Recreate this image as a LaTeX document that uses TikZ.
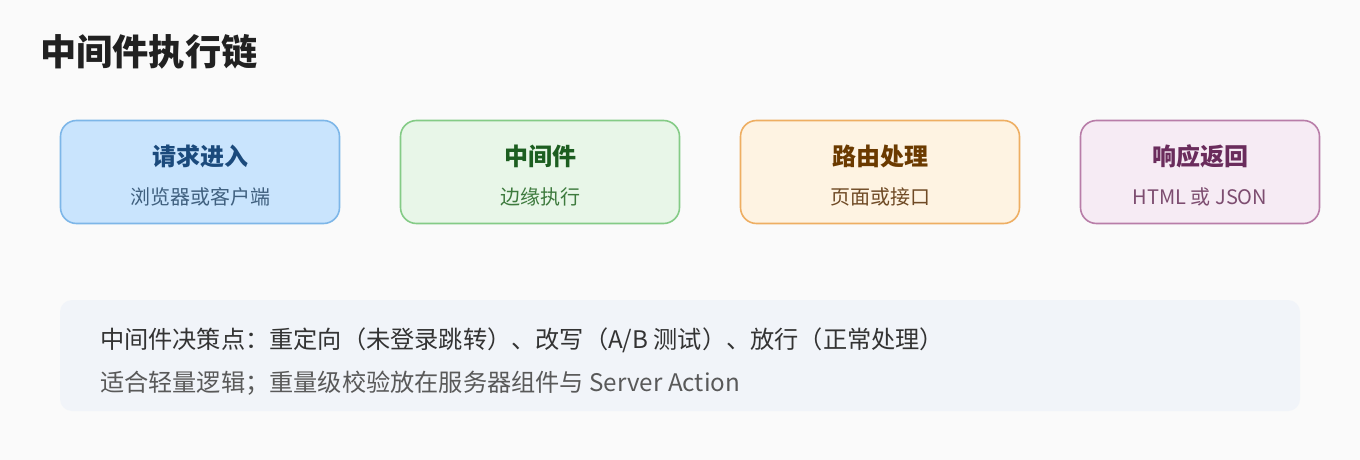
\documentclass[tikz,border=0pt]{standalone}
\usepackage{fontspec}
\setmainfont{Noto Sans CJK SC}
\usetikzlibrary{positioning}
\definecolor{bgcol}{HTML}{FAFAFA}
\definecolor{reqfill}{HTML}{C9E4FD}
\definecolor{reqline}{HTML}{7DB6E8}
\definecolor{reqhead}{HTML}{1B4A7C}
\definecolor{reqsub}{HTML}{40607F}
\definecolor{midfill}{HTML}{E8F6E8}
\definecolor{midline}{HTML}{84CB86}
\definecolor{midhead}{HTML}{1C5E20}
\definecolor{midsub}{HTML}{3D7A3D}
\definecolor{routefill}{HTML}{FEF3E2}
\definecolor{routeline}{HTML}{EEAE62}
\definecolor{routehead}{HTML}{6B3A00}
\definecolor{routesub}{HTML}{6F4A25}
\definecolor{respfill}{HTML}{F6EBF4}
\definecolor{respline}{HTML}{B87DA8}
\definecolor{resphead}{HTML}{6A2C5C}
\definecolor{respsub}{HTML}{7D4D70}
\definecolor{notefill}{HTML}{F1F4F9}

\begin{document}
\begin{tikzpicture}[x=1pt,y=1pt,
    stage/.style={rounded corners=16pt,line width=1.6pt,minimum width=279pt,minimum height=103pt,inner sep=0pt,outer sep=0pt},
    head/.style={inner sep=0pt,font=\bfseries\fontsize{24}{28}\selectfont},
    sub/.style={inner sep=0pt,font=\fontsize{20}{24}\selectfont},
    line/.style={inner sep=0pt,anchor=west,font=\fontsize{24.2}{28}\selectfont}]

            \fill[bgcol] (0,0) rectangle (1360,-460);
            \useasboundingbox (0,0) rectangle (1360,-460);

            \node[inner sep=0pt, anchor=west, text=black!87, font=\bfseries\fontsize{36.2}{42}\selectfont]  (ttl) at (40,-52) {中间件执行链};

            \node[stage, draw=reqline, fill=reqfill]  (req) at (200,-172) {};
            \node[stage, draw=midline, fill=midfill]  (mid) [right = 61pt of req] {};
            \node[stage, draw=routeline, fill=routefill]  (route) [right = 61pt of mid] {};
            \node[stage, draw=respline, fill=respfill, minimum width=239pt]  (resp) [right = 61pt of route] {};

            \node[head, text=reqhead]  (reqh) at ([yshift=16pt]req.center) {请求进入};
            \node[sub, text=reqsub]  (reqs) at ([yshift=-25pt]req.center) {浏览器或客户端};
            \node[head, text=midhead]  (midh) at ([yshift=16pt]mid.center) {中间件};
            \node[sub, text=midsub]  (mids) at ([yshift=-25pt]mid.center) {边缘执行};
            \node[head, text=routehead]  (routeh) at ([yshift=16pt]route.center) {路由处理};
            \node[sub, text=routesub]  (routes) at ([yshift=-25pt]route.center) {页面或接口};
            \node[head, text=resphead]  (resph) at ([yshift=16pt]resp.center) {响应返回};
            \node[sub, text=respsub]  (resps) at ([yshift=-25pt]resp.center) {HTML 或 JSON};

            \node[rounded corners=12pt, fill=notefill, minimum width=1240pt, minimum height=111pt, inner sep=0pt]  (note) at (680,-355.5) {};

            \node[line, text=black!80]  (l1) at ([xshift=40pt, yshift=15pt]note.west) {中间件决策点：重定向（未登录跳转）、改写（A/B 测试）、放行（正常处理）};
            \node[line, text=black!65]  (l2) at ([xshift=40pt, yshift=-28pt]note.west) {适合轻量逻辑；重量级校验放在服务器组件与 Server Action};
        \end{tikzpicture}
\end{document}
